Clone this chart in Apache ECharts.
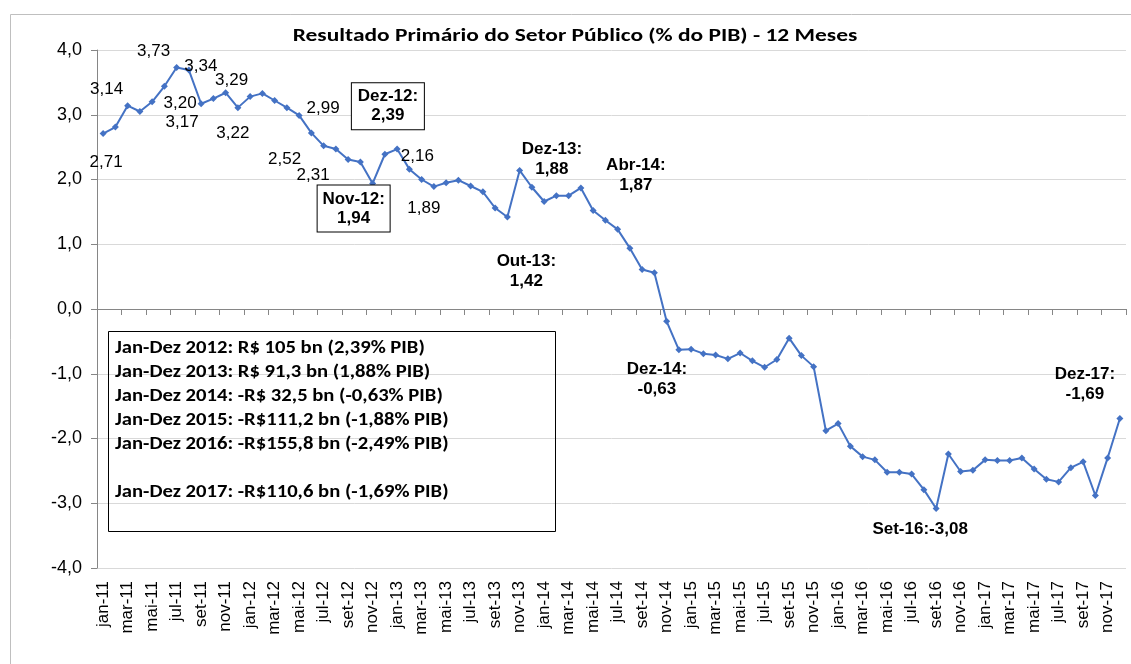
<!DOCTYPE html>
<html>
<head>
<meta charset="utf-8">
<script src="https://cdn.jsdelivr.net/npm/echarts@6/dist/echarts.min.js"></script>
<style>
html,body{margin:0;padding:0;background:#fff;}
#c{width:1131px;height:664px;}
</style>
</head>
<body>
<div id="c"></div>
<script>
// ---- data ----
const months = ['jan','fev','mar','abr','mai','jun','jul','ago','set','out','nov','dez'];
const years = ['11','12','13','14','15','16','17'];
const v2011 = [2.71, 2.81, 3.14, 3.05, 3.20, 3.44, 3.73, 3.69, 3.17, 3.25, 3.34, 3.11];
const v2012 = [3.28, 3.33, 3.22, 3.11, 2.99, 2.72, 2.52, 2.47, 2.31, 2.27, 1.94, 2.39];
const v2013 = [2.47, 2.16, 2.00, 1.89, 1.95, 1.99, 1.90, 1.81, 1.56, 1.42, 2.14, 1.88];
const v2014 = [1.66, 1.75, 1.75, 1.87, 1.52, 1.37, 1.23, 0.94, 0.61, 0.56, -0.19, -0.63];
const v2015 = [-0.62, -0.69, -0.71, -0.77, -0.68, -0.80, -0.90, -0.78, -0.45, -0.72, -0.89, -1.88];
const v2016 = [-1.77, -2.12, -2.28, -2.33, -2.52, -2.52, -2.55, -2.79, -3.08, -2.24, -2.51, -2.49];
const v2017 = [-2.33, -2.34, -2.34, -2.30, -2.47, -2.63, -2.67, -2.45, -2.36, -2.88, -2.30, -1.69];
const yTicks = [-4, -3, -2, -1, 0, 1, 2, 3, 4];
const titleText = 'Resultado Primário do Setor Público (% do PIB) - 12 Meses';
const boxLines = [
  'Jan-Dez 2012: R$ 105 bn (2,39% PIB)',
  'Jan-Dez 2013: R$ 91,3 bn (1,88% PIB)',
  'Jan-Dez 2014: -R$ 32,5 bn (-0,63% PIB)',
  'Jan-Dez 2015: -R$111,2 bn (-1,88% PIB)',
  'Jan-Dez 2016: -R$155,8 bn (-2,49% PIB)',
  '',
  'Jan-Dez 2017: -R$110,6 bn (-1,69% PIB)'
];
// annotation texts attached to data points (index into series)
const plainLabels = [
  [0, '2,71'], [2, '3,14'], [6, '3,73'], [7, '3,34'], [8, '3,20'], [8, '3,17'],
  [10, '3,29'], [11, '3,22'], [16, '2,99'], [18, '2,52'], [20, '2,31'],
  [25, '2,16'], [27, '1,89']
];
const boldLabels = [
  [35, 'Dez-13:\n1,88'], [39, 'Abr-14:\n1,87'], [33, 'Out-13:\n1,42'],
  [47, 'Dez-14:\n-0,63'], [83, 'Dez-17:\n-1,69'], [68, 'Set-16:-3,08']
];
const boxedLabels = [
  [23, 'Dez-12:\n2,39'], [22, 'Nov-12:\n1,94']
];

// ---- layout (label offsets in px, relative to their point) ----
const plainOffsets = [
  [3, 29], [-21, -16], [-23, -16], [12, -4], [-21, 0], [-19, 19],
  [6, -12], [-5, 26], [24, -7], [-39, 13], [-35, 16], [8, -13], [-10, 22]
];
const boldOffsets = [[20, -28], [55, -13], [19, 54], [-22, 30], [-35, -34], [-16, 21]];
const boxedOffsets = [[3, -48], [-19, 25]];

const categories = [];
years.forEach(y => months.forEach(m => categories.push(m + '-' + y)));
const values = [].concat(v2011, v2012, v2013, v2014, v2015, v2016, v2017);

const fmt = v => v.toFixed(1).replace('.', ',');

const mp = [];
plainLabels.forEach((a, k) => {
  mp.push({
    coord: [categories[a[0]], values[a[0]]],
    label: { formatter: a[1], offset: plainOffsets[k], fontSize: 17, fontFamily: 'Liberation Sans, Arial', color: '#000' }
  });
});
boldLabels.forEach((a, k) => {
  mp.push({
    coord: [categories[a[0]], values[a[0]]],
    label: { formatter: a[1], offset: boldOffsets[k], fontSize: 17, fontWeight: 'bold', lineHeight: 20, fontFamily: 'Liberation Sans, Arial', color: '#000', align: 'center' }
  });
});
boxedLabels.forEach((a, k) => {
  mp.push({
    coord: [categories[a[0]], values[a[0]]],
    label: {
      formatter: a[1], offset: boxedOffsets[k], fontSize: 17, fontWeight: 'bold', lineHeight: 19,
      fontFamily: 'Liberation Sans, Arial', color: '#000', align: 'center',
      backgroundColor: '#fff', borderColor: '#000', borderWidth: 1, width: 66, height: 38, padding: [4, 3, 4, 3]
    }
  });
});

const chart = echarts.init(document.getElementById('c'), null, { renderer: 'canvas' });
chart.setOption({
  animation: false,
  backgroundColor: '#fff',
  grid: { left: 97, right: 5, top: 50, bottom: 96, containLabel: false },
  xAxis: [
    {
      type: 'category', data: categories, boundaryGap: true,
      position: 'bottom',
      axisLine: { show: false, onZero: false },
      axisTick: { show: false },
      axisLabel: { interval: 1, rotate: 90, margin: 13, fontSize: 17, fontFamily: 'Liberation Sans, Arial', color: '#000' },
      splitLine: { show: false }
    },
    {
      type: 'category', data: categories, boundaryGap: true,
      position: 'top',
      axisLine: { show: true, onZero: true, lineStyle: { color: '#868686', width: 1 } },
      axisTick: { show: true, interval: 1, inside: true, length: 6, lineStyle: { color: '#868686' } },
      axisLabel: { show: false },
      splitLine: { show: false }
    }
  ],
  yAxis: {
    type: 'value', min: -4, max: 4, interval: 1,
    axisLine: { show: true, lineStyle: { color: '#868686' } },
    axisTick: { show: true, length: 6, lineStyle: { color: '#868686' } },
    axisLabel: { formatter: fmt, fontSize: 18, margin: 15, fontFamily: 'Liberation Sans, Arial', color: '#000' },
    splitLine: { show: true, lineStyle: { color: '#d9d9d9', width: 1 } }
  },
  graphic: [
    { type: 'rect', left: 8, top: 12, z: -10, shape: { width: 1300, height: 800 }, style: { fill: 'none', stroke: '#bfbfbf', lineWidth: 1 } },
    { type: 'text', x: 575, y: 36, scaleX: 1.234, z: 60,
      style: { text: titleText, align: 'center', verticalAlign: 'middle', fill: '#000', fontFamily: 'Carlito, Lato, sans-serif', fontWeight: 'bold', fontSize: 19 } },
    { type: 'rect', left: 106, top: 329, z: 50, shape: { width: 447, height: 200 }, style: { fill: 'none', stroke: '#000', lineWidth: 1 } },
    { type: 'text', x: 115, y: 337, scaleX: 1.215, z: 51,
      style: { text: boxLines.join('\n'), fill: '#000', fontFamily: 'Carlito, Lato, sans-serif', fontWeight: 'bold', fontSize: 17, lineHeight: 24 } }
  ],
  series: [{
    type: 'line', data: values, xAxisIndex: 0,
    symbol: 'diamond', symbolSize: 7, showSymbol: true,
    itemStyle: { color: '#4472C4' },
    lineStyle: { color: '#4472C4', width: 2 },
    z: 5,
    markPoint: { symbol: 'circle', symbolSize: 0, label: { show: true, position: 'inside' }, data: mp, z: 10 }
  }]
});
</script>
</body>
</html>
